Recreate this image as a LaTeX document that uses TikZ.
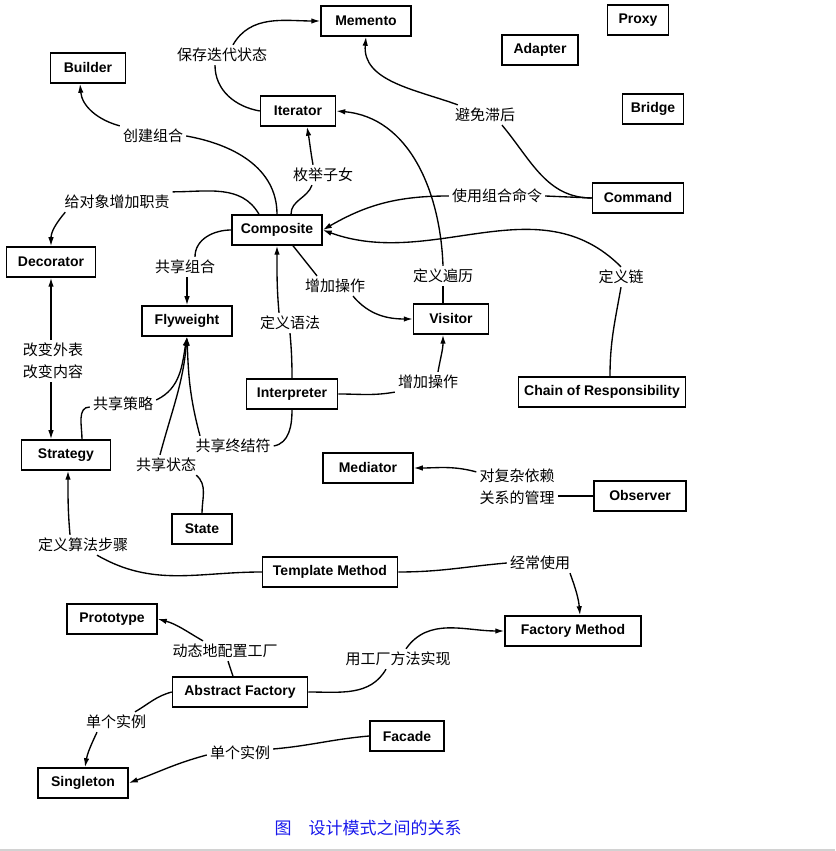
\documentclass[tikz,border=0pt]{standalone}
\usepackage{fontspec}
\newfontfamily\boxfont{Liberation Sans}
\newfontfamily\cjk{Noto Sans CJK SC}
\usepackage{xcolor}
\usetikzlibrary{arrows.meta, positioning, calc}

\definecolor{capblue}{RGB}{25,25,235}

\begin{document}
\begin{tikzpicture}[
    x=1pt, y=1pt,
    patbox/.style={rectangle, draw=black, line width=1.5pt, minimum height=30pt, inner sep=2pt, align=center, font=\boxfont\bfseries\fontsize{14}{16}\selectfont},
    note/.style={inner sep=3pt, align=center, font=\cjk\fontsize{15}{22}\selectfont},
    link/.style={line width=1.35pt},
    arrow/.style={-{Latex[length=9pt,width=5.5pt]}, line width=1.35pt}
]
\useasboundingbox (0,0) rectangle (835,851);

% Patterns
\node[patbox, minimum width=90pt] (memento) at (366, 830) {Memento};
\node[patbox, minimum width=61pt] (proxy) at (638, 831) {Proxy};
\node[patbox, minimum width=76pt] (adapter) at (540, 801) {Adapter};
\node[patbox, minimum width=61pt] (bridge) at (653, 742) {Bridge};
\node[patbox, minimum width=75pt] (builder) at (88, 783) {Builder};
\node[patbox, minimum width=75pt] (iterator) at (298, 740) {Iterator};
\node[patbox, minimum width=91pt] (command) at (638, 653) {Command};
\node[patbox, minimum width=90pt] (composite) at (277, 621) {Composite};
\node[patbox, minimum width=89pt] (decorator) at (51, 589) {Decorator};
\node[patbox, minimum width=90pt] (flyweight) at (187, 530) {Flyweight};
\node[patbox, minimum width=75pt] (visitor) at (451, 532) {Visitor};
\node[patbox, minimum width=91pt] (interpreter) at (292, 457) {Interpreter};
\node[patbox, minimum width=167pt] (chain) at (602, 459) {Chain of Responsibility};
\node[patbox, minimum width=89pt] (strategy) at (66, 396) {Strategy};
\node[patbox, minimum width=90pt] (mediator) at (368, 383) {Mediator};
\node[patbox, minimum width=92pt] (observer) at (640, 355) {Observer};
\node[patbox, minimum width=60pt] (state) at (202, 322) {State};
\node[patbox, minimum width=135pt] (template) at (330, 279) {Template Method};
\node[patbox, minimum width=90pt] (prototype) at (112, 232) {Prototype};
\node[patbox, minimum width=136pt] (factorymethod) at (573, 220) {Factory Method};
\node[patbox, minimum width=135pt] (abstractfactory) at (240, 159) {Abstract Factory};
\node[patbox, minimum width=74pt] (facade) at (407, 115) {Facade};
\node[patbox, minimum width=90pt] (singleton) at (83, 68) {Singleton};

% Relation texts
\node[note] (lsave) at (222, 796) {保存迭代状态};
\node[note] (lbuild) at (153, 715) {创建组合};
\node[note] (lenum) at (323, 676) {枚举子女};
\node[note] (llag) at (485, 736) {避免滞后};
\node[note] (lcmd) at (497, 655) {使用组合命令};
\node[note] (lresp) at (117, 649) {给对象增加职责};
\node[note] (lshare) at (185, 584) {共享组合};
\node[note] (laddop) at (335, 565) {增加操作};
\node[note] (ltrav) at (443, 575) {定义遍历};
\node[note] (lchain) at (621, 574) {定义链};
\node[note] (lgram) at (290, 528) {定义语法};
\node[note] (lskin) at (53, 490) {改变外表\\改变内容};
\node[note] (lstrat) at (123, 447) {共享策略};
\node[note] (laddvis) at (428, 469) {增加操作};
\node[note] (lterm) at (233, 405) {共享终结符};
\node[note] (lstate) at (166, 386) {共享状态};
\node[note] (ldep) at (517, 364) {对复杂依赖\\关系的管理};
\node[note] (lalgo) at (83, 306) {定义算法步骤};
\node[note] (loften) at (540, 288) {经常使用};
\node[note] (ldyn) at (225, 200) {动态地配置工厂};
\node[note] (lfm) at (398, 192) {用工厂方法实现};
\node[note] (lsingle) at (116, 129) {单个实例};
\node[note] (lfacade) at (240, 98) {单个实例};

% Caption
\node[font=\cjk\fontsize{17}{19}\selectfont, text=capblue] (caption) at (368, 23) {图\hspace{1em}设计模式之间的关系};
\draw[gray!35, line width=2pt] (0, 1) -- (835, 1);

% Iterator / Memento / Command
\draw[link] (iterator.west) to[out=170, in=-90] ([xshift=-7pt]lsave.south);
\draw[arrow] ([xshift=11pt]lsave.north) to[out=60, in=180] (memento.west);
\draw[link] (command.west) to[out=180, in=-50] ([xshift=17pt]llag.south);
\draw[arrow] ([xshift=6pt]llag.north west) to[out=160, in=-95] (memento.south);

% Composite
\draw[link] (composite.north) to[out=90, in=-10] (lbuild.east);
\draw[arrow] (lbuild.north west) to[out=165, in=-85] ([xshift=-8pt]builder.south);
\draw[link] ([xshift=14pt]composite.north) to[out=90, in=-110] ([xshift=-11pt]lenum.south);
\draw[arrow] ([xshift=-10pt]lenum.north) to[out=100, in=-80] ([xshift=9pt]iterator.south);
\draw[link] ([xshift=-18pt]composite.north) to[out=120, in=0] (lresp.north east);
\draw[arrow] ([xshift=4pt]lresp.south west) to[out=-130, in=90] (decorator.north);
\draw[link] (composite.west) to[out=180, in=90] ([xshift=10pt]lshare.north);
\draw[arrow] (flyweight.north |- lshare.south) -- (flyweight.north);
\draw[link] ([xshift=16pt]composite.south) -- ([xshift=-18pt]laddop.north);
\draw[arrow] ([xshift=18pt]laddop.south) to[out=-50, in=180] (visitor.west);

% Visitor / Command / Chain
\draw[link] ([xshift=-8pt]visitor.north) -- (ltrav.south);
\draw[arrow] (ltrav.north) to[out=92, in=-5] (iterator.east);
\draw[link] (command.west) -- (lcmd.east);
\draw[arrow] (lcmd.west) to[out=180, in=30] (composite.east);
\draw[link] ([xshift=8pt]chain.north) to[out=90, in=-100] (lchain.south);
\draw[arrow] (lchain.north) to[out=135, in=-20] (composite.east);

% Interpreter
\draw[link] (interpreter.north) to[out=90, in=-85] (lgram.south);
\draw[arrow] ([xshift=-11pt]lgram.north) to[out=95, in=-90] (composite.south);
\draw[link] (interpreter.east) to[out=0, in=190] (laddvis.south west);
\draw[arrow] ([xshift=10pt]laddvis.north) to[out=80, in=-90] ([xshift=-8pt]visitor.south);
\draw[link] (interpreter.south) to[out=-90, in=10] (lterm.east);
\draw[arrow] ([xshift=-33pt]lterm.north) to[out=105, in=-88] (flyweight.south);

% Flyweight / Strategy / State
\draw[link] ([xshift=16pt]strategy.north) to[out=90, in=180] ([yshift=-3pt]lstrat.west);
\draw[arrow] ([yshift=4pt]lstrat.east) to[out=25, in=-100] (flyweight.south);
\draw[link] (state.north) to[out=90, in=-40] ([xshift=-3pt]lstate.south east);
\draw[arrow] ([xshift=-6pt]lstate.north) to[out=75, in=-95] (flyweight.south);
\draw[arrow] (decorator.south |- lskin.north) -- (decorator.south);
\draw[arrow] (decorator.south |- lskin.south) -- (decorator.south |- strategy.north);

% Mediator / Observer
\draw[link] (observer.west) -- (ldep.east |- observer.west);
\draw[arrow] ([yshift=-6pt]ldep.north west) to[out=165, in=0] (mediator.east);

% Template Method
\draw[link] (template.west) to[out=180, in=-30] ([xshift=14pt]lalgo.south);
\draw[arrow] ([xshift=-13pt]lalgo.north) to[out=95, in=-90] ([xshift=2pt]strategy.south);
\draw[link] (template.east) to[out=0, in=185] (loften.west);
\draw[arrow] ([xshift=30pt]loften.south) to[out=-70, in=95] ([xshift=7pt]factorymethod.north);

% Abstract Factory / Facade
\draw[link] ([xshift=-7pt]abstractfactory.north) -- ([xshift=3pt]ldyn.south);
\draw[arrow] ([xshift=-22pt]ldyn.north) to[out=150, in=-15] (prototype.east);
\draw[link] (abstractfactory.east) to[out=0, in=-120] ([xshift=-12pt]lfm.south);
\draw[arrow] ([xshift=8pt]lfm.north) to[out=55, in=180] (factorymethod.west);
\draw[link] (abstractfactory.west) to[out=195, in=30] ([xshift=19pt]lsingle.north);
\draw[arrow] ([xshift=-19pt]lsingle.south) to[out=-115, in=80] ([xshift=2pt]singleton.north);
\draw[link] (facade.west) to[out=185, in=5] ([yshift=4pt]lfacade.east);
\draw[arrow] ([yshift=-2pt]lfacade.west) to[out=195, in=20] (singleton.east);

\end{tikzpicture}
\end{document}
